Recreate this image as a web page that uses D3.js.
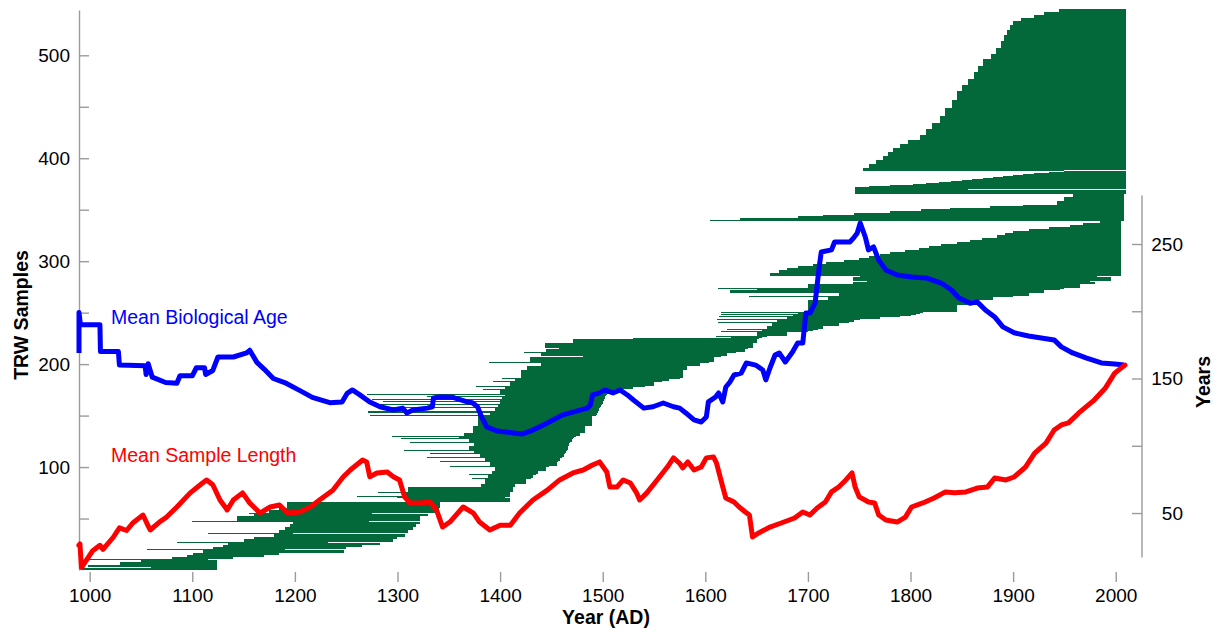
<!DOCTYPE html>
<html>
<head>
<meta charset="utf-8">
<script src="https://cdn.jsdelivr.net/npm/d3@7"></script>
<style>
  body { margin: 0; background: #fff; }
  svg { display: block; font-family: 'Liberation Sans', Arial, Helvetica, sans-serif; }
</style>
</head>
<body>
<svg id="chart" width="1220" height="632"></svg>
<script>
// tree-ring samples, bottom to top: [number of samples, first year, last year]
const sampleRuns = [
  [2, 993, 1124], [1, 1060, 1124], [2, 998, 1124], [3, 1030, 1124], [2, 1050, 1124],
  [1, 996, 1115], [2, 1080, 1140], [2, 1095, 1170], [2, 1101, 1185], [2, 1110, 1248],
  [1, 1056, 1190], [2, 1120, 1250], [2, 1130, 1265], [2, 1135, 1283], [1, 1085, 1232],
  [3, 1150, 1296], [2, 1160, 1300], [3, 1180, 1307], [1, 1115, 1198], [3, 1185, 1310],
  [3, 1190, 1315], [3, 1195, 1318], [2, 1198, 1322], [1, 1100, 1272], [4, 1144, 1322],
  [2, 1160, 1330], [1, 1155, 1275], [3, 1175, 1339], [2, 1185, 1340], [6, 1192, 1341],
  // 1300-1410 shelf
  [4, 1310, 1410], [1, 1300, 1405], [1, 1261, 1410], [3, 1305, 1410], [1, 1281, 1410],
  [5, 1310, 1413],
  // middle block
  [3, 1381, 1415], [4, 1385, 1425], [1, 1373, 1430], [3, 1388, 1432], [1, 1370, 1435],
  [3, 1392, 1437], [4, 1395, 1445], [1, 1351, 1448], [4, 1390, 1455], [1, 1341, 1456],
  [3, 1385, 1458], [1, 1329, 1460], [3, 1380, 1462], [1, 1332, 1463], [2, 1375, 1464],
  [1, 1306, 1465], [3, 1370, 1466], [3, 1375, 1467], [1, 1312, 1468], [3, 1370, 1470],
  [1, 1303, 1471], [1, 1360, 1472], [1, 1295, 1474], [3, 1365, 1478], [7, 1374, 1483],
  [10, 1378, 1490], [1, 1273, 1493], [2, 1390, 1494], [1, 1271, 1495], [3, 1395, 1496],
  [1, 1290, 1497], [2, 1398, 1498], [1, 1277, 1499], [2, 1400, 1500], [1, 1286, 1500],
  [1, 1400, 1501], [1, 1275, 1501], [2, 1402, 1502], [1, 1329, 1502], [1, 1405, 1503],
  [1, 1270, 1504],
  [4, 1400, 1508], [1, 1383, 1512], [2, 1405, 1530], [1, 1377, 1541], [4, 1410, 1550],
  [1, 1393, 1558], [2, 1415, 1565], [1, 1402, 1575], [7, 1420, 1578], [4, 1426, 1582],
  [3, 1440, 1595], [1, 1389, 1604], [5, 1429, 1608], [1, 1481, 1615], [3, 1440, 1621],
  [1, 1423, 1630], [3, 1445, 1639], [1, 1457, 1642], [5, 1444, 1646], [3, 1471, 1650],
  [1, 1530, 1652],
  // 1650-1850 ends
  [1, 1625, 1655], [1, 1610, 1660], [4, 1650, 1680], [1, 1615, 1700], [1, 1655, 1705],
  [1, 1621, 1710], [3, 1660, 1715], [3, 1665, 1730], [1, 1612, 1740], [2, 1670, 1745],
  [1, 1611, 1751], [2, 1680, 1770], [1, 1613, 1790], [1, 1685, 1800], [1, 1615, 1805],
  [1, 1690, 1809], [1, 1615, 1812], [6, 1700, 1845],
  [5, 1700, 1860], [3, 1720, 1880], [1, 1643, 1900], [3, 1730, 1915], [3, 1624, 1930],
  [1, 1650, 1946], [1, 1612, 1950], [4, 1700, 1965], [2, 1744, 1980], [1, 1758, 1975],
  [4, 1744, 1995], [1, 1751, 1982],
  // living trees, collected 2005
  [3, 1663, 2005], [2, 1672, 2005], [2, 1680, 2005], [2, 1690, 2005], [2, 1705, 2005],
  [2, 1718, 2005], [2, 1735, 2005], [2, 1750, 2005], [2, 1760, 2005], [2, 1770, 2005],
  [2, 1780, 2005], [2, 1795, 2005], [2, 1808, 2005], [2, 1818, 2005], [2, 1830, 2005],
  [2, 1845, 2005], [2, 1858, 2005], [2, 1870, 2005], [2, 1884, 2005], [2, 1892, 2005],
  [2, 1900, 2005], [2, 1915, 2005], [2, 1935, 2005], [2, 1955, 2005], [2, 1968, 2005],
  [2, 1985, 2005],
  // collected 2008
  [1, 1605, 2008], [2, 1634, 2008], [2, 1690, 2008], [1, 1715, 2008], [2, 1745, 2008],
  [2, 1780, 2008], [2, 1810, 2008], [1, 1838, 2008], [2, 1877, 2008], [1, 1910, 2008],
  [3, 1943, 2008], [4, 1950, 2008], [3, 1958, 2008],
  // collected 2010
  [4, 1746, 2010], [1, 1746, 1856], [2, 1746, 2010],
  [1, 1760, 2010], [1, 1780, 2010], [1, 1802, 2010], [1, 1815, 2010], [1, 1828, 2010],
  [1, 1839, 2010], [1, 1850, 2010], [1, 1860, 2010], [1, 1871, 2010], [1, 1880, 2010],
  [1, 1890, 2010], [1, 1900, 2010], [1, 1910, 2010], [1, 1920, 2010], [1, 1935, 2010],
  [1, 1950, 2010], [1, 1754, 1950],
  [2, 1754, 2010], [3, 1760, 2010], [4, 1766, 2010], [4, 1773, 2010], [4, 1778, 2010],
  [4, 1783, 2010], [4, 1790, 2010], [4, 1798, 2010], [5, 1809, 2010], [5, 1815, 2010],
  [6, 1821, 2010], [7, 1829, 2010], [8, 1834, 2010], [8, 1840, 2010], [8, 1845, 2010],
  [6, 1850, 2010], [6, 1856, 2010], [7, 1862, 2010], [6, 1866, 2010], [6, 1871, 2010],
  [5, 1878, 2010], [6, 1883, 2010], [7, 1888, 2010], [6, 1891, 2010], [5, 1894, 2010],
  [4, 1897, 2010], [4, 1900, 2010], [3, 1908, 2010], [3, 1920, 2010], [3, 1930, 2010],
  [3, 1945, 2010]
];

// [year, years]
const bioAge = [
  [989.6, 169], [989.6, 199], [991, 190], [1010, 190], [1010.5, 170], [1028, 170], [1029, 160],
  [1054, 159.5], [1055, 153], [1057, 161], [1061, 151], [1074, 147], [1085, 146.5], [1088, 152],
  [1100, 152], [1104, 158], [1112, 158], [1113, 153], [1120, 156], [1125, 166], [1140, 166],
  [1153, 169], [1156, 171], [1163, 162], [1170, 157], [1179, 150], [1190, 147], [1205, 141],
  [1217, 136], [1234, 132], [1246, 132.6], [1251, 139], [1256, 141.5], [1263, 138], [1273, 132.6],
  [1283, 129], [1296, 126.6], [1305, 128], [1309, 124.4], [1315, 126.6], [1329, 128], [1334, 129],
  [1335, 135.5], [1341, 136.3], [1354, 136], [1368, 132.6], [1373, 132], [1378, 129], [1382, 121.4],
  [1387, 114], [1397, 111], [1413, 109.5], [1422, 108.8], [1432, 111.7], [1446, 117], [1461, 123],
  [1471, 125], [1485, 128], [1488, 130.3], [1490, 137.8], [1497, 139.3], [1502, 141.5], [1510, 139.3],
  [1517, 141.5], [1524, 137.8], [1530, 134], [1540, 128], [1549, 129], [1559, 131.8], [1569, 129],
  [1575, 128], [1581, 124.4], [1589, 119.2], [1596, 117.7], [1601, 121.4], [1603, 132.6], [1610, 136.3],
  [1613, 139.3], [1617, 132.6], [1620, 143.7], [1624, 147.4], [1628, 152.6], [1635, 154], [1640, 161.6],
  [1649, 160], [1656, 156.3], [1659, 149], [1663, 157.8], [1668, 167.5], [1672, 169], [1678, 162.3],
  [1685, 169.7], [1690, 176.4], [1695, 176.4], [1698, 198.7], [1702, 198.7], [1707, 206], [1711, 233],
  [1713, 244], [1723, 245.6], [1726, 251.5], [1741, 251.5], [1745, 255], [1748, 258], [1751, 265.6],
  [1756, 255], [1759, 245.6], [1764, 247.8], [1769, 238], [1776, 230.7], [1787, 227], [1801, 225.5],
  [1815, 224.8], [1830, 221], [1840, 215.8], [1847, 210], [1858, 206], [1865, 207], [1873, 201],
  [1882, 195.8], [1890, 188.4], [1901, 184], [1915, 181.6], [1929, 180], [1940, 178.7], [1947, 173.5],
  [1958, 169], [1971, 165.3], [1986, 161.6], [1999, 160.8], [2008, 160]
];

const sampleLength = [
  [989.5, 26], [990.5, 27], [992, 9.5], [1003, 22], [1010, 26], [1013, 23], [1023, 32], [1029, 39],
  [1036, 37], [1042, 42.6], [1052, 48.5], [1056, 42], [1059, 37.4], [1068, 43.3], [1075, 47],
  [1085, 54.5], [1098, 65], [1110, 72.3], [1114, 74.6], [1120, 71], [1127, 59.7], [1134, 52.3],
  [1140, 59.7], [1149, 65], [1156, 57.5], [1166, 50], [1176, 54.5], [1185, 56], [1193, 50],
  [1205, 50.8], [1215, 54.5], [1224, 59.7], [1237, 67], [1247, 76.8], [1254, 82], [1266, 89.4],
  [1270, 88], [1273, 77], [1280, 79.8], [1290, 80.5], [1296, 77], [1302, 74.6], [1307, 62],
  [1312, 57.5], [1322, 57.5], [1332, 58.2], [1338, 52.3], [1344, 39.6], [1351, 43.3], [1364, 54.5],
  [1374, 50], [1380, 43.3], [1390, 37.4], [1400, 41], [1410, 41], [1419, 50], [1432, 59.7],
  [1446, 67], [1458, 74.6], [1471, 79.8], [1481, 82], [1490, 85.7], [1497, 88], [1504, 80.5],
  [1507, 69.4], [1514, 69.4], [1520, 74.6], [1527, 72.3], [1533, 65], [1536, 59.7], [1543, 65],
  [1553, 74.6], [1563, 84.2], [1569, 91], [1575, 87], [1578, 83.5], [1583, 88], [1589, 82],
  [1596, 84.2], [1601, 91], [1608, 91.7], [1611, 87], [1617, 69.4], [1620, 61.2], [1628, 58.2],
  [1633, 54.5], [1639, 50.8], [1643, 48.5], [1646, 32.2], [1652, 35.2], [1663, 39.6], [1674, 42.6],
  [1687, 46.3], [1695, 50.8], [1702, 48.5], [1709, 53.8], [1717, 58.2], [1723, 65.7], [1730, 69.4],
  [1737, 74.6], [1743, 79.8], [1746, 69.4], [1750, 62], [1759, 58.2], [1765, 57.5], [1769, 48.5],
  [1776, 44.8], [1787, 43.3], [1795, 47], [1801, 54.5], [1812, 57.5], [1823, 61.2], [1834, 65.7],
  [1843, 65], [1854, 65.7], [1865, 68.6], [1875, 69.4], [1882, 76], [1893, 74.6], [1901, 76.8],
  [1912, 84.2], [1921, 94.6], [1932, 102], [1940, 111.7], [1947, 115.5], [1954, 117], [1964, 124.4],
  [1979, 134], [1990, 143], [1999, 154], [2009, 160]
];

const xTicks = d3.range(1000, 2001, 100);
const leftTicks = d3.range(50, 501, 50);
const rightTicks = [50, 100, 150, 200, 250];

const svg = d3.select('#chart');
const x = d3.scaleLinear().domain([989.6, 2025.6]).range([79, 1142]);
const yL = d3.scaleLinear().domain([0, 544]).range([570, 10]);
const yR = d3.scaleLinear().domain([0, 250]).range([580.3, 244]);

svg.append('rect').attr('width', 1220).attr('height', 632).attr('fill', '#fff');

// expand runs into one record per sample
var samples = [];
sampleRuns.forEach(([n, start, end]) => {
  for (let k = 0; k < n; k++) samples.push({start, end});
});

svg.append('g')
  .attr('shape-rendering', 'crispEdges')
  .selectAll('rect')
  .data(samples)
  .join('rect')
  .attr('x', d => x(d.start))
  .attr('width', d => x(d.end) - x(d.start))
  .attr('y', (d, i) => yL(i + 1))
  .attr('height', (d, i) => yL(i) - yL(i + 1))
  .attr('fill', '#03683a');

const axisColor = '#9b9b9b';

function styleAxis(g) {
  g.selectAll('line, path').attr('stroke', axisColor).attr('stroke-width', 1.4);
  g.selectAll('text').attr('font-size', 19).attr('fill', '#000');
}

// left axis
svg.append('g')
  .attr('transform', 'translate(79,0)')
  .call(d3.axisLeft(yL).tickValues(leftTicks).tickSize(-10).tickSizeOuter(0).tickPadding(9)
    .tickFormat(d => d % 100 === 0 ? d : ''))
  .call(styleAxis);

// bottom axis, ticks only
svg.append('g')
  .attr('transform', 'translate(0,572)')
  .call(d3.axisBottom(x).tickValues(xTicks).tickSize(10).tickPadding(7).tickFormat(d3.format('d')))
  .call(g => g.select('.domain').remove())
  .call(styleAxis);

// right axis
const rightSpan = [17, 286];
const gR = svg.append('g')
  .attr('transform', 'translate(1142,0)')
  .call(d3.axisRight(yR).tickValues(rightTicks).tickSize(-10).tickSizeOuter(0)
    .tickFormat(d => d % 100 === 50 ? d : ''))
  .call(g => g.select('.domain').remove());
gR.append('line')
  .attr('y1', yR(rightSpan[0])).attr('y2', yR(rightSpan[1]));
gR.selectAll('text').attr('text-anchor', 'end').attr('x', 41);
gR.call(styleAxis);

const line = d3.line().x(d => x(d[0])).y(d => yR(d[1]));

svg.append('path')
  .datum(bioAge)
  .attr('d', line)
  .attr('fill', 'none')
  .attr('stroke', '#0000ff')
  .attr('stroke-width', 5)
  .attr('stroke-linejoin', 'round');

svg.append('path')
  .datum(sampleLength)
  .attr('d', line)
  .attr('fill', 'none')
  .attr('stroke', '#ff0000')
  .attr('stroke-width', 5)
  .attr('stroke-linejoin', 'round')
  .attr('stroke-linecap', 'round');

svg.append('text')
  .attr('x', 111).attr('y', 324)
  .attr('font-size', 19.5).attr('fill', '#0000ff')
  .text('Mean Biological Age');

svg.append('text')
  .attr('x', 111).attr('y', 462)
  .attr('font-size', 19.5).attr('fill', '#ff0000')
  .text('Mean Sample Length');

// axis titles
svg.append('text')
  .attr('transform', 'translate(28,315) rotate(-90)')
  .attr('text-anchor', 'middle')
  .attr('font-size', 19.5).attr('font-weight', 'bold')
  .text('TRW Samples');

svg.append('text')
  .attr('transform', 'translate(1210,382) rotate(-90)')
  .attr('text-anchor', 'middle')
  .attr('font-size', 19.5).attr('font-weight', 'bold')
  .text('Years');

svg.append('text')
  .attr('x', 606).attr('y', 624)
  .attr('text-anchor', 'middle')
  .attr('font-size', 19.5).attr('font-weight', 'bold')
  .text('Year (AD)');
</script>
</body>
</html>
